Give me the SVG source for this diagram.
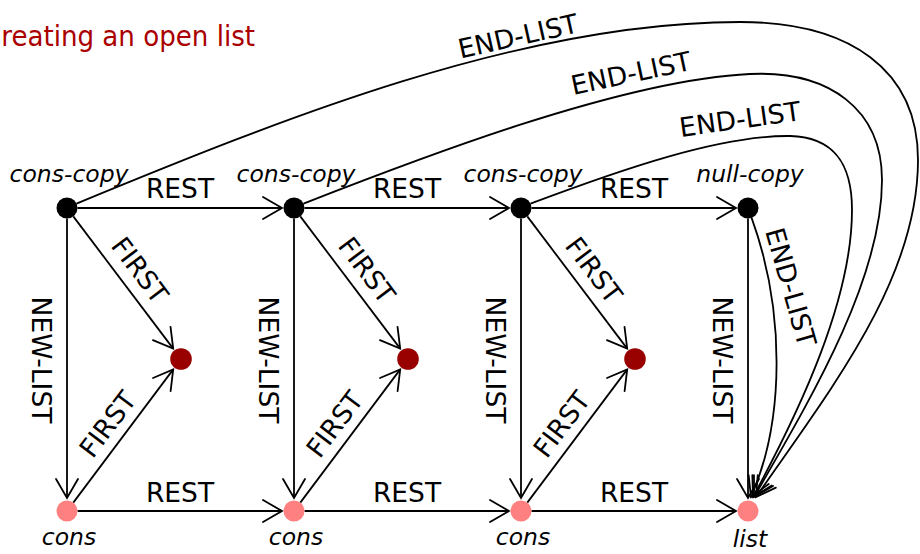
<svg xmlns="http://www.w3.org/2000/svg" width="920" height="554" viewBox="0 0 920 554">
<style>
.e{fill:none;stroke:#000;stroke-width:1.8;marker-end:url(#arr)}
.lbl{font-family:"DejaVu Sans",sans-serif;font-size:26.5px;text-anchor:middle;fill:#000}
.nl{font-family:"DejaVu Sans",sans-serif;font-style:italic;font-size:23.5px;text-anchor:middle;fill:#000}
.blk{fill:#000}
.red{fill:#990000}
.pink{fill:#ff8080}
.title{font-family:"DejaVu Sans",sans-serif;font-size:29px;fill:#aa0000}
</style>
<defs>
<marker id="arr" markerUnits="userSpaceOnUse" markerWidth="30" markerHeight="30" viewBox="-25 -15 30 30" refX="0" refY="0" orient="auto" overflow="visible">
<path d="M-19,-11 L0,0 L-19,11" fill="none" stroke="#000" stroke-width="1.8" stroke-linecap="round"/>
</marker>
</defs>
<rect width="920" height="554" fill="#fff"/>
<text class="title" x="-17" y="46" textLength="272" lengthAdjust="spacingAndGlyphs">Creating an open list</text>

<g id="connectors">
<path class="e" d="M77.5,208 H282"/>
<path class="e" d="M304.5,208 H509"/>
<path class="e" d="M531.5,208 H736"/>
<path class="e" d="M77.5,511 H282"/>
<path class="e" d="M304.5,511 H509"/>
<path class="e" d="M531.5,511 H736"/>
<path class="e" d="M67,218.5 V498"/>
<path class="e" d="M294,218.5 V498"/>
<path class="e" d="M521,218.5 V498"/>
<path class="e" d="M748,218.5 V498"/>
<path class="e" d="M73.3,216.4 L173.2,348.6"/>
<path class="e" d="M300.3,216.4 L400.2,348.6"/>
<path class="e" d="M527.3,216.4 L627.2,348.6"/>
<path class="e" d="M73.3,502.6 L173.2,369.4"/>
<path class="e" d="M300.3,502.6 L400.2,369.4"/>
<path class="e" d="M527.3,502.6 L627.2,369.4"/>
<path class="e" d="M76.5,203.6 C280,120 520,22 740,22 C850,22 918,70 918,160 C918,280 830,390 756,497"/>
<path class="e" d="M303.5,203.6 C410,162 620,80 750,74 C830,70.3 882,110 882,180 C882,280 810,400 754,497"/>
<path class="e" d="M530.5,203.6 C620,170 720,135 790,136 C835,137 852,165 852,210 C852,300 800,410 753,497"/>
<path class="e" d="M751.6,217.9 C785,310 785,420 751,497"/>
<g id="edge-labels">
<text class="lbl" x="180" y="198">REST</text>
<text class="lbl" x="407" y="198">REST</text>
<text class="lbl" x="634" y="198">REST</text>
<text class="lbl" x="180" y="502">REST</text>
<text class="lbl" x="407" y="502">REST</text>
<text class="lbl" x="634" y="502">REST</text>
<text class="lbl" transform="translate(41,360) rotate(90)" y="9.5">NEW-LIST</text>
<text class="lbl" transform="translate(268,360) rotate(90)" y="9.5">NEW-LIST</text>
<text class="lbl" transform="translate(495,360) rotate(90)" y="9.5">NEW-LIST</text>
<text class="lbl" transform="translate(722,360) rotate(90)" y="9.5">NEW-LIST</text>
<text class="lbl" transform="translate(140,270) rotate(53)" y="9.5">FIRST</text>
<text class="lbl" transform="translate(367,270) rotate(53)" y="9.5">FIRST</text>
<text class="lbl" transform="translate(594,270) rotate(53)" y="9.5">FIRST</text>
<text class="lbl" transform="translate(107.5,424) rotate(-53)" y="9.5">FIRST</text>
<text class="lbl" transform="translate(334.5,424) rotate(-53)" y="9.5">FIRST</text>
<text class="lbl" transform="translate(561.5,424) rotate(-53)" y="9.5">FIRST</text>
<text class="lbl" transform="translate(518,36) rotate(-12.6)" y="9.5">END-LIST</text>
<text class="lbl" transform="translate(631,73) rotate(-12)" y="9.5">END-LIST</text>
<text class="lbl" transform="translate(740,119) rotate(-8)" y="9.5">END-LIST</text>
<text class="lbl" transform="translate(791,287) rotate(74)" y="9.5">END-LIST</text>
</g>
</g>

<g id="cons-copy-1"><circle class="blk" cx="67" cy="208" r="10.5"/><text class="nl" x="69" y="182">cons-copy</text></g>
<g id="cons-copy-2"><circle class="blk" cx="294" cy="208" r="10.5"/><text class="nl" x="296" y="182">cons-copy</text></g>
<g id="cons-copy-3"><circle class="blk" cx="521" cy="208" r="10.5"/><text class="nl" x="523" y="182">cons-copy</text></g>
<g id="null-copy"><circle class="blk" cx="748" cy="208" r="10.5"/><text class="nl" x="750" y="182">null-copy</text></g>
<g id="first-1"><circle class="red" cx="181" cy="359" r="10.8"/></g>
<g id="first-2"><circle class="red" cx="408" cy="359" r="10.8"/></g>
<g id="first-3"><circle class="red" cx="635" cy="359" r="10.8"/></g>
<g id="cons-1"><circle class="pink" cx="67" cy="511" r="10.5"/><text class="nl" x="69" y="545">cons</text></g>
<g id="cons-2"><circle class="pink" cx="294" cy="511" r="10.5"/><text class="nl" x="296" y="545">cons</text></g>
<g id="cons-3"><circle class="pink" cx="521" cy="511" r="10.5"/><text class="nl" x="523" y="545">cons</text></g>
<g id="list"><circle class="pink" cx="748" cy="511" r="10.5"/><text class="nl" x="750" y="547">list</text></g>
</svg>
